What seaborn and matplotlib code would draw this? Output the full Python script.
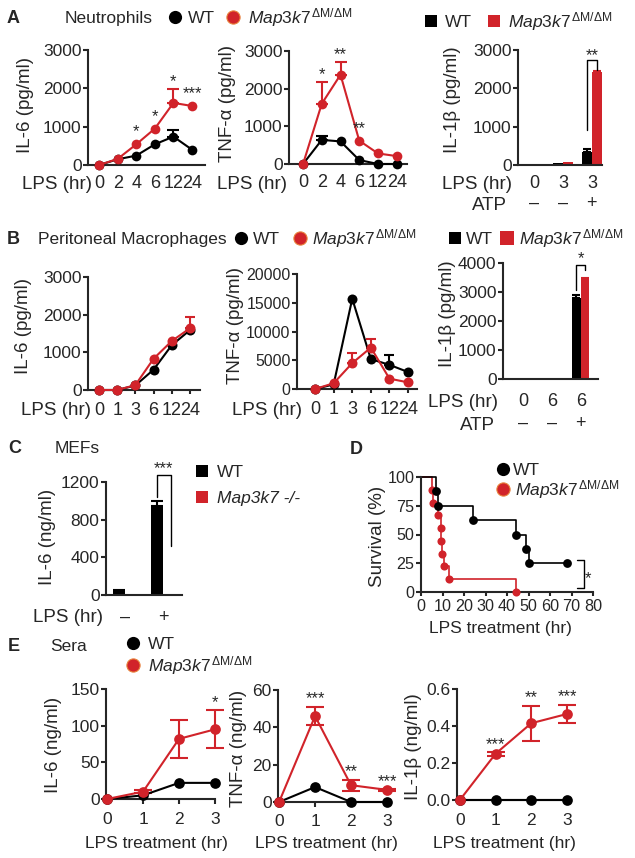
import numpy as np
import pandas as pd
import matplotlib
matplotlib.use("Agg")
import matplotlib.pyplot as plt
from matplotlib.lines import Line2D
import seaborn as sns

# ---------------- data ----------------
A_times = ["0", "2", "4", "6", "12", "24"]
A_il6_wt = [0, 150, 245, 540, 740, 400]
A_il6_wt_err = [0, 0, 0, 0, 160, 0]
A_il6_ko = [0, 160, 540, 950, 1620, 1540]
A_il6_ko_err = [0, 0, 0, 0, 350, 0]
A_il6_stars = ["", "", "*", "*", "*", "***"]
A_tnf_wt = [0, 640, 600, 105, 0, 0]
A_tnf_wt_err = [0, 110, 0, 0, 0, 0]
A_tnf_ko = [0, 1600, 2370, 620, 280, 210]
A_tnf_ko_err = [0, 580, 340, 0, 0, 0]
A_tnf_stars = ["", "*", "**", "**", "", ""]
A_bar_lps = ["0", "3", "3"]
A_bar_atp = ["–", "–", "+"]
A_il1b_wt = [20, 40, 330]
A_il1b_wt_err = [0, 0, 90]
A_il1b_ko = [10, 70, 2420]
A_il1b_ko_err = [0, 0, 30]

B_times = ["0", "1", "3", "6", "12", "24"]
B_il6_wt = [0, 0, 120, 540, 1190, 1590]
B_il6_wt_err = [0, 0, 0, 0, 0, 0]
B_il6_ko = [0, 0, 130, 830, 1300, 1640]
B_il6_ko_err = [0, 0, 0, 0, 0, 300]
B_tnf_wt = [0, 800, 15700, 5200, 4200, 2950]
B_tnf_wt_err = [0, 0, 0, 0, 1800, 0]
B_tnf_ko = [0, 1000, 4500, 7200, 1800, 1150]
B_tnf_ko_err = [0, 0, 1800, 1450, 0, 0]
B_bar_lps = ["0", "6", "6"]
B_bar_atp = ["–", "–", "+"]
B_il1b_wt = [0, 0, 2800]
B_il1b_wt_err = [0, 0, 80]
B_il1b_ko = [0, 30, 3450]
B_il1b_ko_err = [0, 0, 40]

C_lps = ["–", "+"]
C_il6_wt = [45, 940]
C_il6_wt_err = [10, 60]
C_il6_ko = [0, 0]
C_il6_ko_err = [0, 0]

D_wt_t = [0, 7, 8, 24, 44, 49, 50, 68]
D_wt_s = [100, 87.5, 75, 62.5, 50, 37.5, 25, 25]
D_ko_t = [0, 5, 5.7, 8, 9.3, 9.3, 9.9, 10.6, 13, 44]
D_ko_s = [100, 88.9, 77.8, 66.7, 55.6, 44.4, 33.3, 22.2, 11.1, 0]

E_times = [0, 1, 2, 3]
E_il6_wt = [0, 5, 22, 22]
E_il6_wt_err = [0, 0, 0, 0]
E_il6_ko = [0, 10, 82, 95]
E_il6_ko_err = [0, 2, 26, 26]
E_il6_stars = ["", "", "", "*"]
E_tnf_wt = [0, 8, 0, 0]
E_tnf_wt_err = [0, 0, 0, 0]
E_tnf_ko = [0, 46, 9, 6.5]
E_tnf_ko_err = [0, 5, 3, 0.5]
E_tnf_stars = ["", "***", "**", "***"]
E_il1b_wt = [0, 0, 0, 0]
E_il1b_wt_err = [0, 0, 0, 0]
E_il1b_ko = [0, 0.25, 0.415, 0.465]
E_il1b_ko_err = [0, 0.01, 0.095, 0.05]
E_il1b_stars = ["", "***", "**", "***"]

# ---------------- style ----------------
sns.set_style("ticks")
plt.rcParams["font.family"] = ["Liberation Sans", "DejaVu Sans"]
plt.rcParams["mathtext.fontset"] = "custom"
plt.rcParams["mathtext.rm"] = "Liberation Sans"
plt.rcParams["mathtext.it"] = "Liberation Sans:italic"
plt.rcParams["axes.linewidth"] = 1.5

BLACK = "#000000"
RED = "#d1232a"
PAL = {"WT": BLACK, "KO": RED}
KO_LABEL = r"$\mathit{Map3k7}^{\,\mathrm{\Delta M/\Delta M}}$"

W, H = 635, 858
PT = 100 / 72
fig = plt.figure(figsize=(W / 100, H / 100), dpi=100)


def box(l, t, r, b):
    return [l / W, 1 - b / H, (r - l) / W, (b - t) / H]


def txt(x, y, s, size=12.5, ha="left", **kw):
    fig.text(x / W, 1 - (y + 0.358 * size * PT) / H, s, fontsize=size,
             ha=ha, va="baseline", **kw)


def vtxt(x, y, s, size=13.5):
    fig.text(x / W, 1 - y / H, s, fontsize=size, rotation=90,
             ha="center", va="center")


def fmark(x, y, color, marker="o", ms=9.5, mec=None):
    fig.add_artist(Line2D([x / W], [1 - y / H], marker=marker, ms=ms,
                          color=color, mec=mec or color, mew=0.8 if mec else 0,
                          ls="none", transform=fig.transFigure))


def style(ax, xlen=0, xpad=7.5, xsize=13, ysize=12.5):
    sns.despine(ax=ax)
    ax.tick_params(axis="y", length=3.6, width=1.5, pad=1, labelsize=ysize)
    ax.tick_params(axis="x", length=xlen, width=1.5, pad=xpad, labelsize=xsize)
    ax.set_xlabel("")
    ax.set_ylabel("")
    ax.patch.set_alpha(0)


def star(ax, x, ytop, s, up=13, size=12):
    ax.annotate(s, (x, ytop), xytext=(0, up - 0.585 * size * PT),
                textcoords="offset pixels", ha="center", va="baseline",
                fontsize=size, annotation_clip=False)


def line_panel(bx, cats, wt, wt_err, ko, ko_err, xlim, ylim, yticks,
               two_sided=False, cap=4.3, ms=7, stars=None, xlen=0, xpad=7.5,
               ysize=12.5, xsize=13, xticks=None):
    ax = fig.add_axes(box(*bx))
    n = len(wt)
    xs = list(range(n)) if xticks is None else list(xticks)
    for vals, errs, col in ((wt, wt_err, BLACK), (ko, ko_err, RED)):
        idx = [i for i, e in enumerate(errs) if e > 0]
        if idx:
            e = [errs[i] for i in idx]
            lower = e if two_sided else [0] * len(e)
            ax.errorbar([xs[i] for i in idx], [vals[i] for i in idx],
                        yerr=[lower, e], fmt="none", ecolor=col,
                        elinewidth=1.5, capsize=cap, capthick=1.5,
                        clip_on=False, zorder=2.5)
    df = pd.DataFrame({"pos": xs * 2, "val": list(wt) + list(ko),
                       "group": ["WT"] * n + ["KO"] * n})
    sns.lineplot(data=df, x="pos", y="val", hue="group",
                 hue_order=["WT", "KO"], palette=PAL, marker="o",
                 markersize=ms, markeredgewidth=0, linewidth=1.5,
                 legend=False, errorbar=None, estimator=None, ax=ax,
                 clip_on=False, zorder=3)
    ax.set_xlim(*xlim)
    ax.set_ylim(*ylim)
    ax.set_yticks(yticks)
    ax.set_xticks(xs, cats)
    style(ax, xlen=xlen, xpad=xpad, xsize=xsize, ysize=ysize)
    if stars:
        for i, s in enumerate(stars):
            if s:
                a = wt[i] + wt_err[i]
                b = ko[i] + ko_err[i]
                top = max(a, b)
                has_err = (wt_err[i] if a >= b else ko_err[i]) > 0
                star(ax, xs[i], top, s, up=13 + (0 if has_err else 4.5))
    return ax


def bar_panel(bx, labels, wt, wt_err, ko, ko_err, xlim, ylim, yticks,
              width=0.65, xpad=7.5, linesp=1.2, cap=3.2):
    ax = fig.add_axes(box(*bx))
    n = len(wt)
    keys = [f"c{i}" for i in range(n)]
    df = pd.DataFrame({"cond": keys * 2, "val": list(wt) + list(ko),
                       "group": ["WT"] * n + ["KO"] * n})
    sns.barplot(data=df, x="cond", y="val", hue="group",
                hue_order=["WT", "KO"], palette=PAL, width=width,
                saturation=1, errorbar=None, legend=False, linewidth=0,
                ax=ax, zorder=2)
    centers = []
    for cont, errs, col in zip(ax.containers, (wt_err, ko_err), (BLACK, RED)):
        cs = []
        for bar, e in zip(cont, errs):
            cx = bar.get_x() + bar.get_width() / 2
            cs.append(cx)
            if e > 0:
                ax.errorbar([cx], [bar.get_height()], yerr=[[0], [e]],
                            fmt="none", ecolor=col, elinewidth=1.5,
                            capsize=cap, capthick=1.5, clip_on=False,
                            zorder=1.5)
        centers.append(cs)
    ax.set_xlim(*xlim)
    ax.set_ylim(*ylim)
    ax.set_yticks(yticks)
    ax.set_xticks(range(n), labels)
    for t in ax.get_xticklabels():
        t.set_linespacing(linesp)
    style(ax, xlen=0, xpad=xpad)
    return ax, centers


def bracket(ax, x1, x2, y1, y2, ytop, s, up=11):
    ax.plot([x1, x1, x2, x2], [y1, ytop, ytop, y2], color=BLACK, lw=1.0,
            clip_on=False)
    star(ax, (x1 + x2) / 2, ytop, s, up=up)


# ---------------- panel A ----------------
line_panel((88, 50, 205, 165), A_times, A_il6_wt, A_il6_wt_err, A_il6_ko,
           A_il6_ko_err, (-0.6, 5.7), (0, 3000), [0, 1000, 2000, 3000],
           stars=A_il6_stars)
line_panel((289, 51, 407, 164), A_times, A_tnf_wt, A_tnf_wt_err, A_tnf_ko,
           A_tnf_ko_err, (-0.75, 5.55), (0, 3000), [0, 1000, 2000, 3000],
           stars=A_tnf_stars)
axA3, cA3 = bar_panel((518, 50, 602, 165),
                      [f"{a}\n{b}" for a, b in zip(A_bar_lps, A_bar_atp)],
                      A_il1b_wt, A_il1b_wt_err, A_il1b_ko, A_il1b_ko_err,
                      (-0.55, 2.35), (0, 3000), [0, 1000, 2000, 3000],
                      width=0.68)
bracket(axA3, cA3[0][2], cA3[1][2], 913, 2480, 2740, "**", up=10)

txt(7, 17, "A", size=13, weight="bold")
txt(65, 17, "Neutrophils")
fmark(175, 17, BLACK)
txt(188, 17, "WT")
fmark(233, 17, RED, mec="#e8803a")
txt(248, 17, KO_LABEL)
fmark(431, 21, BLACK, marker="s", ms=8.5)
txt(445, 21, "WT")
fmark(494, 21, RED, marker="s", ms=8.5)
txt(508, 21, KO_LABEL)
txt(92, 182, "LPS (hr)", size=13.5, ha="right")
txt(287, 182, "LPS (hr)", size=13.5, ha="right")
txt(512, 182, "LPS (hr)", size=13.5, ha="right")
txt(507, 203, "ATP", size=13.5, ha="right")
vtxt(25, 105, "IL-6 (pg/ml)")
vtxt(228, 104, "TNF-α (pg/ml)")
vtxt(452, 100, "IL-1β (pg/ml)")

# ---------------- panel B ----------------
line_panel((88, 277, 200, 390), B_times, B_il6_wt, B_il6_wt_err, B_il6_ko,
           B_il6_ko_err, (-0.6, 5.55), (0, 3000), [0, 1000, 2000, 3000],
           xlen=2.9, xpad=5.5, cap=3.6, ms=7.2)
line_panel((297, 274, 417, 389), B_times, B_tnf_wt, B_tnf_wt_err, B_tnf_ko,
           B_tnf_ko_err, (-0.97, 5.48), (0, 20000),
           [0, 5000, 10000, 15000, 20000], xlen=2.9, xpad=5.5, cap=3.6,
           ms=7.2, ysize=11.4)
axB3, cB3 = bar_panel((503, 263, 598, 379),
                      [f"{a}\n{b}" for a, b in zip(B_bar_lps, B_bar_atp)],
                      B_il1b_wt, B_il1b_wt_err, B_il1b_ko, B_il1b_ko_err,
                      (-0.7, 2.6), (0, 4000), [0, 1000, 2000, 3000, 4000],
                      width=0.6, xpad=10.3, linesp=1.35)
bracket(axB3, cB3[0][2], cB3[1][2], 3070, 3760, 3930, "*", up=12)

txt(7, 238, "B", size=13, weight="bold")
txt(38, 238, "Peritoneal Macrophages")
fmark(241, 238, BLACK)
txt(253, 238, "WT")
fmark(300, 238, RED, mec="#e8803a")
txt(312, 238, KO_LABEL)
fmark(455, 238, BLACK, marker="s", ms=8.5)
txt(466, 238, "WT")
fmark(507, 238, RED, marker="s", ms=10)
txt(519, 238, KO_LABEL)
txt(91, 408, "LPS (hr)", size=13.5, ha="right")
txt(302, 408, "LPS (hr)", size=13.5, ha="right")
txt(498, 400, "LPS (hr)", size=13.5, ha="right")
txt(495, 423, "ATP", size=13.5, ha="right")
vtxt(24, 326, "IL-6 (pg/ml)")
vtxt(236, 325, "TNF-α (pg/ml)")
vtxt(448, 314, "IL-1β (pg/ml)")

# ---------------- panel C ----------------
axC, cC = bar_panel((106, 482, 182, 595), C_lps, C_il6_wt, C_il6_wt_err,
                    C_il6_ko, C_il6_ko_err, (-0.5, 1.5), (0, 1200),
                    [0, 400, 800, 1200], width=0.63, xpad=9.8, cap=4)
bracket(axC, cC[0][1], cC[1][1] + 0.05, 1040, 520, 1274, "***", up=12)
txt(8, 447, "C", size=13, weight="bold")
txt(55, 447, "MEFs")
fmark(202, 471, BLACK, marker="s", ms=9)
txt(217, 471, "WT")
fmark(202, 497, RED, marker="s", ms=9)
txt(217, 497, "Map3k7 -/-", style="italic")
txt(103, 615, "LPS (hr)", size=13.5, ha="right")
vtxt(47, 537, "IL-6 (ng/ml)")

# ---------------- panel D ----------------
axD = fig.add_axes(box(421, 477, 593, 592))
sns.lineplot(x=D_ko_t, y=D_ko_s, drawstyle="steps-post", estimator=None,
             sort=False, color=RED, linewidth=1.2, ax=axD, clip_on=False)
sns.lineplot(x=D_wt_t, y=D_wt_s, drawstyle="steps-post", estimator=None,
             sort=False, color=BLACK, linewidth=1.2, ax=axD, clip_on=False)
sns.scatterplot(x=D_ko_t[1:], y=D_ko_s[1:], color=RED, s=34, linewidth=0,
                ax=axD, clip_on=False, zorder=3)
sns.scatterplot(x=D_wt_t[1:], y=D_wt_s[1:], color=BLACK, s=40, linewidth=0,
                ax=axD, clip_on=False, zorder=3)
axD.set_xlim(0, 80)
axD.set_ylim(0, 100)
axD.set_xticks(range(0, 81, 10))
axD.set_yticks([0, 25, 50, 75, 100])
style(axD, xlen=2.9, xpad=2.0, xsize=11.6, ysize=11.6)
axD.plot([72.6, 75.8, 75.8, 72.6], [27.8, 27.8, 3.5, 3.5], color=BLACK,
         lw=1.0, clip_on=False)
star(axD, 77.6, 16.5, "*", up=0)
txt(350, 448, "D", size=13, weight="bold")
fmark(503, 469, BLACK)
txt(513, 469, "WT")
fmark(503, 489, RED, mec="#e8803a")
txt(515, 489, KO_LABEL)
txt(500, 627, "LPS treatment (hr)", ha="center")
vtxt(378, 536, "Survival (%)")

# ---------------- panel E ----------------
Ecats = [str(t) for t in E_times]
line_panel((106, 689, 215, 799), Ecats, E_il6_wt, E_il6_wt_err, E_il6_ko,
           E_il6_ko_err, (-0.03, 3), (0, 150), [0, 50, 100, 150],
           two_sided=True, cap=6.5, ms=7.7, stars=E_il6_stars, xlen=3.6,
           xpad=6, xsize=12.5, xticks=E_times)
line_panel((278, 690, 387, 802), Ecats, E_tnf_wt, E_tnf_wt_err, E_tnf_ko,
           E_tnf_ko_err, (-0.03, 3), (0, 60), [0, 20, 40, 60],
           two_sided=True, cap=6.5, ms=7.7, stars=E_tnf_stars, xlen=3.6,
           xpad=5, xsize=12.5, xticks=E_times)
axE3 = line_panel((457, 689, 567, 800), Ecats, E_il1b_wt, E_il1b_wt_err,
                  E_il1b_ko, E_il1b_ko_err, (-0.08, 3), (0, 0.6),
                  [0, 0.2, 0.4, 0.6], two_sided=True, cap=6.5, ms=7.7,
                  stars=E_il1b_stars, xlen=3.6, xpad=6, xsize=12.5,
                  xticks=E_times)
axE3.yaxis.set_major_formatter(matplotlib.ticker.FormatStrFormatter("%.1f"))
txt(8, 645, "E", size=13, weight="bold")
txt(50, 645, "Sera")
fmark(133, 643, BLACK)
txt(148, 643, "WT")
fmark(133, 665, RED, mec="#e8803a")
txt(148, 665, KO_LABEL)
txt(156, 842, "LPS treatment (hr)", ha="center")
txt(326, 842, "LPS treatment (hr)", ha="center")
txt(504, 842, "LPS treatment (hr)", ha="center")
vtxt(54, 745, "IL-6 (ng/ml)")
vtxt(238, 748, "TNF-α (ng/ml)")
vtxt(414, 747, "IL-1β (ng/ml)")

fig.savefig("out.png", dpi=100)
